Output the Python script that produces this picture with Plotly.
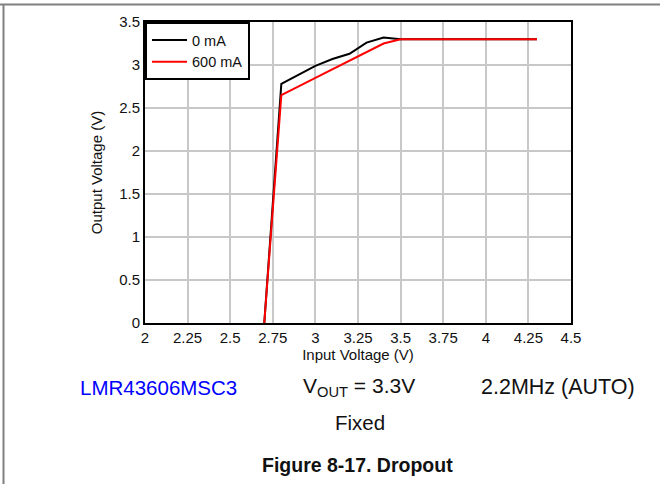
import plotly.graph_objects as go

# ---- data ----
vin_0mA = [2.70, 2.80, 3.00, 3.10, 3.20, 3.30, 3.40, 3.50, 4.30]
vout_0mA = [0.00, 2.78, 2.99, 3.07, 3.13, 3.26, 3.32, 3.30, 3.30]

vin_600mA = [2.70, 2.80, 3.00, 3.10, 3.20, 3.30, 3.40, 3.50, 4.30]
vout_600mA = [0.00, 2.65, 2.85, 2.95, 3.05, 3.15, 3.25, 3.30, 3.30]

x_tickvals = [2, 2.25, 2.5, 2.75, 3, 3.25, 3.5, 3.75, 4, 4.25, 4.5]
x_ticktext = ["2", "2.25", "2.5", "2.75", "3", "3.25", "3.5", "3.75", "4", "4.25", "4.5"]
y_tickvals = [0, 0.5, 1, 1.5, 2, 2.5, 3, 3.5]
y_ticktext = ["0", "0.5", "1", "1.5", "2", "2.5", "3", "3.5"]

FONT = "Liberation Sans, Arial, sans-serif"

W, H = 660, 484
L, R, T, B = 145, 571, 22, 323  # plot area in pixels


def px_x(p):
    return (p - L) / (R - L)


def px_y(p):
    return (B - p) / (B - T)


fig = go.Figure()
fig.add_trace(go.Scatter(x=vin_0mA, y=vout_0mA, mode="lines", name="0 mA",
                         line=dict(color="#000000", width=2)))
fig.add_trace(go.Scatter(x=vin_600mA, y=vout_600mA, mode="lines", name="600 mA",
                         line=dict(color="#ff0000", width=2)))

axis_common = dict(showgrid=True, gridcolor="#c8c8c8", gridwidth=1.5,
                   showline=True, linecolor="#000000", linewidth=2, mirror=True,
                   zeroline=False, ticks="", tickfont=dict(family=FONT, size=15, color="#111"))

fig.update_xaxes(range=[2, 4.5], tickvals=x_tickvals, ticktext=x_ticktext,
                 title=dict(text="Input Voltage (V)", font=dict(family=FONT, size=15, color="#111"), standoff=0),
                 **axis_common)
fig.update_yaxes(range=[0, 3.5], tickvals=y_tickvals, ticktext=y_ticktext,
                 title=dict(text="Output Voltage (V)", font=dict(family=FONT, size=15, color="#111"), standoff=13),
                 **axis_common)

fig.update_layout(
    width=W, height=H,
    margin=dict(l=L, r=W - R, t=T, b=H - B, autoexpand=False),
    paper_bgcolor="white", plot_bgcolor="white",
    font=dict(family=FONT, size=15, color="#111"),
    legend=dict(x=0, y=1, xanchor="left", yanchor="top",
                bordercolor="#000000", borderwidth=2, bgcolor="white",
                font=dict(family=FONT, size=14.5, color="#111"),
                itemwidth=35, tracegroupgap=0),
    showlegend=True,
)

annots = [
    dict(text="LMR43606MSC3", x=px_x(158), y=px_y(387), color="#0000ff", size=20.5),
    dict(text="V<sub>OUT</sub> = 3.3V", x=px_x(359), y=px_y(387), color="#111", size=21),
    dict(text="2.2MHz (AUTO)", x=px_x(558), y=px_y(387), color="#111", size=21.5),
    dict(text="Fixed", x=px_x(360), y=px_y(422), color="#111", size=20.5),
    dict(text="<b>Figure 8-17. Dropout</b>", x=px_x(357), y=px_y(465), color="#111", size=19.5),
]
for a in annots:
    fig.add_annotation(text=a["text"], x=a["x"], y=a["y"], xref="paper", yref="paper",
                       xanchor="center", yanchor="middle", showarrow=False,
                       font=dict(family=FONT, size=a["size"], color=a["color"]))

# page frame lines (top and left, gray)
fig.add_shape(type="line", xref="paper", yref="paper",
              x0=px_x(0), x1=px_x(W), y0=px_y(4.5), y1=px_y(4.5),
              line=dict(color="#808080", width=2))
fig.add_shape(type="line", xref="paper", yref="paper",
              x0=px_x(3.5), x1=px_x(3.5), y0=px_y(4.5), y1=px_y(H),
              line=dict(color="#808080", width=2))

fig.write_html("out.html", config={"displayModeBar": False},
               post_script="document.body.style.margin='0';document.body.style.overflow='hidden';")
